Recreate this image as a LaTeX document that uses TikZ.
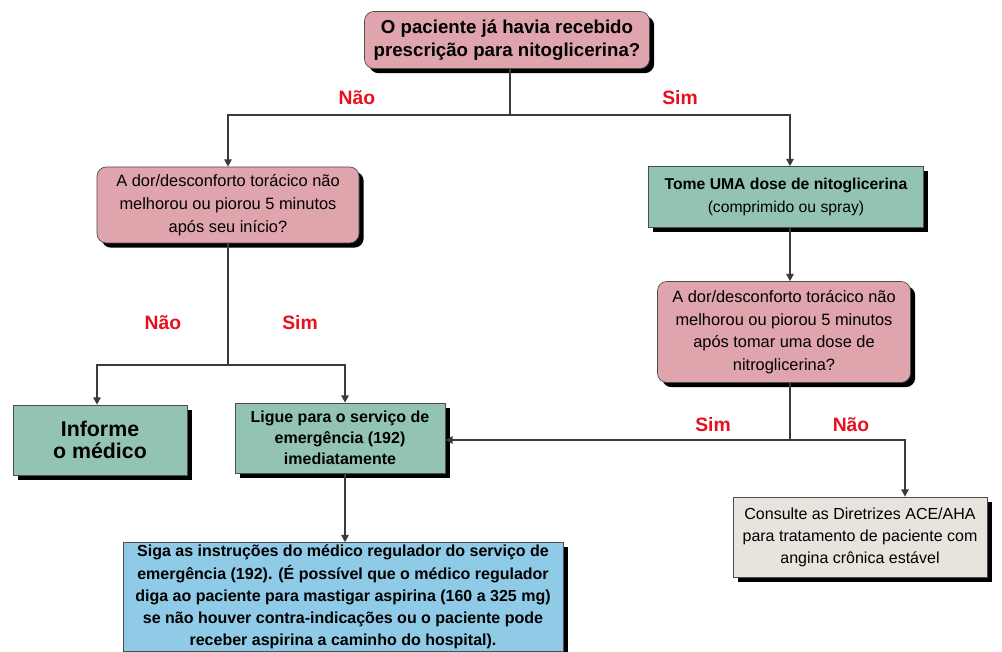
\documentclass[tikz,border=0pt]{standalone}
\usepackage{fontspec}
\setmainfont{Liberation Sans}
\usetikzlibrary{arrows.meta,shadows}
\definecolor{pinkbox}{HTML}{DFA4AC}
\definecolor{greenbox}{HTML}{93C4B3}
\definecolor{bluebox}{HTML}{8FCAE6}
\definecolor{graybox}{HTML}{E6E4DC}
\definecolor{lbl}{HTML}{E8101E}
\definecolor{ln}{HTML}{3A3A3A}
\begin{document}
\begin{tikzpicture}[x=0.75pt,y=-0.75pt,
  box/.style={draw=black!70,line width=0.5pt,align=center,inner sep=2pt,
    drop shadow={shadow xshift=3.5pt,shadow yshift=-3.5pt,fill=black,opacity=1},
    font=\fontsize{12.3}{17}\selectfont},
  qbox/.style={box,fill=pinkbox,rounded corners=7pt},
  gbox/.style={box,fill=greenbox},
  conn/.style={draw=ln,line width=1.3pt},
  arr/.style={conn,-{Triangle[width=5.5pt,length=5.5pt]}},
  lab/.style={text=lbl,font=\fontsize{14.5}{16}\selectfont\bfseries}]
\useasboundingbox (0,0) rectangle (1002,652);
\node[qbox,minimum width=285*0.75pt,minimum height=57*0.75pt,font=\fontsize{14}{17}\selectfont\bfseries] (top) at (507,40) {O paciente já havia recebido\\prescrição para nitoglicerina?};
\node[qbox,minimum width=262*0.75pt,minimum height=76*0.75pt] (q1) at (228,205) {A dor/desconforto torácico não\\melhorou ou piorou 5 minutos\\após seu início?};
\node[gbox,minimum width=275*0.75pt,minimum height=61*0.75pt,font=\fontsize{11.8}{17}\selectfont] (tome) at (786,197) {\textbf{Tome UMA dose de nitoglicerina}\\(comprimido ou spray)};
\node[qbox,minimum width=253*0.75pt,minimum height=101*0.75pt] (q2) at (784,332) {A dor/desconforto torácico não\\melhorou ou piorou 5 minutos\\após tomar uma dose de\\nitroglicerina?};
\node[gbox,minimum width=174*0.75pt,minimum height=70*0.75pt,font=\fontsize{16}{17}\selectfont\bfseries] (inf) at (100,440) {Informe\\o médico};
\node[gbox,minimum width=210*0.75pt,minimum height=70*0.75pt,font=\fontsize{12}{15.8}\selectfont\bfseries] (lig) at (340,438) {Ligue para o serviço de\\emergência (192)\\imediatamente};
\node[box,fill=bluebox,minimum width=440*0.75pt,minimum height=108*0.75pt,font=\fontsize{12}{16.6}\selectfont\bfseries] (siga) at (343,597) {Siga as instruções do médico regulador do serviço de\\emergência (192). (É possível que o médico regulador\\diga ao paciente para mastigar aspirina (160 a 325 mg)\\se não houver contra-indicações ou o paciente pode\\receber aspirina a caminho do hospital).};
\node[box,fill=graybox,minimum width=254*0.75pt,minimum height=80*0.75pt,font=\fontsize{12}{16.5}\selectfont] (cons) at (860,537) {Consulte as Diretrizes ACE/AHA\\para tratamento de paciente com\\angina crônica estável};
% junctions
\coordinate (j1) at (510,115);
\coordinate (j1L) at (228,115);
\coordinate (j1R) at (790,115);
\coordinate (j2) at (228,365);
\coordinate (j2L) at (97,365);
\coordinate (j2R) at (345,365);
\coordinate (j3) at (790,440);
\coordinate (j3R) at (905,440);
% connectors
\draw[conn] (top.south -| j1) -- (j1);
\draw[arr] (j1) -- (j1L) -- (j1L |- q1.north);
\draw[arr] (j1) -- (j1R) -- (j1R |- tome.north);
\draw[arr] (j1R |- tome.south) -- (j1R |- q2.north);
\draw[conn] (q1.south -| j2) -- (j2);
\draw[arr] (j2) -- (j2L) -- (j2L |- inf.north);
\draw[arr] (j2) -- (j2R) -- (j2R |- lig.north);
\draw[arr] (j2R |- lig.south) -- (j2R |- siga.north);
\draw[conn] (q2.south -| j3) -- (j3);
\draw[arr] (j3) -- (lig.east |- j3);
\draw[arr] (j3) -- (j3R) -- (j3R |- cons.north);
% labels
\node[lab] (l1) at (357,98) {Não};
\node[lab] (l2) at (680,98) {Sim};
\node[lab] (l3) at (163,323) {Não};
\node[lab] (l4) at (300,323) {Sim};
\node[lab] (l5) at (713,425) {Sim};
\node[lab] (l6) at (851,425) {Não};
\end{tikzpicture}
\end{document}
